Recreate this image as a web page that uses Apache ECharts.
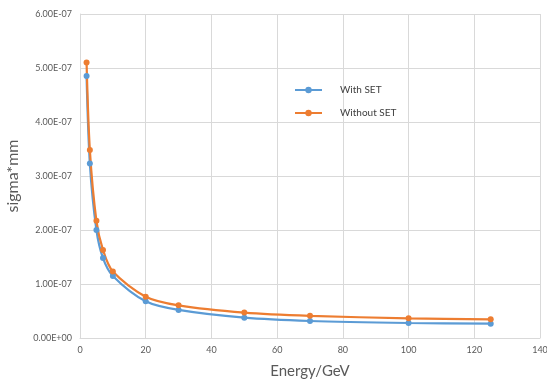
<!DOCTYPE html>
<html><head><meta charset="utf-8">
<script src="https://cdn.jsdelivr.net/npm/echarts@6/dist/echarts.min.js"></script>
<style>html,body{margin:0;padding:0;background:#fff}#c{width:547px;height:387px}</style>
</head><body><div id="c"></div>
<script>
var energy = [2, 3, 5, 7, 10, 20, 30, 50, 70, 100, 125];
var withSET = [4.85e-7, 3.23e-7, 2.0e-7, 1.48e-7, 1.15e-7, 0.68e-7, 0.52e-7, 0.376e-7, 0.315e-7, 0.278e-7, 0.265e-7];
var withoutSET = [5.1e-7, 3.48e-7, 2.17e-7, 1.63e-7, 1.23e-7, 0.765e-7, 0.605e-7, 0.47e-7, 0.41e-7, 0.365e-7, 0.345e-7];
var seriesNames = ['With SET', 'Without SET'];

function fmtE(v) {
  if (v === 0) return '0.00E+00';
  var s = v.toExponential(2).split('e');
  var exp = parseInt(s[1], 10);
  var sign = exp < 0 ? '-' : '+';
  var a = Math.abs(exp);
  return s[0] + 'E' + sign + (a < 10 ? '0' + a : a);
}
function pairs(xs, ys) { return xs.map(function (x, i) { return [x, ys[i]]; }); }

var font = 'Lato, "Open Sans", sans-serif';
var chart = echarts.init(document.getElementById('c'), null, {renderer: 'canvas'});
chart.setOption({
  animation: false,
  textStyle: {fontFamily: font},
  grid: {left: 80, right: 7, top: 14, bottom: 49, containLabel: false, outerBoundsMode: 'none'},
  legend: {
    orient: 'vertical', left: 289, top: 80, itemGap: 13,
    itemWidth: 27, itemHeight: 8,
    textStyle: {fontFamily: font, fontSize: 10, color: '#404040', padding: [0, 0, 0, 13]},
    data: seriesNames
  },
  xAxis: {
    type: 'value', min: 0, max: 140, interval: 20,
    name: 'Energy/GeV', nameLocation: 'middle', nameGap: 26,
    nameTextStyle: {fontFamily: font, fontSize: 15, color: '#595959'},
    axisLine: {show: true, lineStyle: {color: '#d9d9d9'}},
    axisTick: {show: false},
    axisLabel: {fontFamily: font, fontSize: 9, color: '#595959', margin: 8},
    splitLine: {show: true, lineStyle: {color: '#d9d9d9'}}
  },
  yAxis: {
    type: 'value', min: 0, max: 6e-7, interval: 1e-7,
    name: 'sigma*mm', nameLocation: 'middle', nameGap: 59,
    nameTextStyle: {fontFamily: font, fontSize: 16, color: '#595959'},
    axisLine: {show: true, lineStyle: {color: '#d9d9d9'}},
    axisTick: {show: false},
    axisLabel: {fontFamily: font, fontSize: 9, color: '#595959', margin: 8, formatter: fmtE},
    splitLine: {show: true, lineStyle: {color: '#d9d9d9'}}
  },
  series: [
    {name: seriesNames[0], type: 'line', smooth: 0.3, data: pairs(energy, withSET),
     symbol: 'circle', symbolSize: 6, color: '#5B9BD5', lineStyle: {width: 2.2, color: '#5B9BD5'},
     itemStyle: {color: '#5B9BD5'}},
    {name: seriesNames[1], type: 'line', smooth: 0.3, data: pairs(energy, withoutSET),
     symbol: 'circle', symbolSize: 6, color: '#ED7D31', lineStyle: {width: 2.2, color: '#ED7D31'},
     itemStyle: {color: '#ED7D31'}}
  ]
});
</script>
</body></html>
